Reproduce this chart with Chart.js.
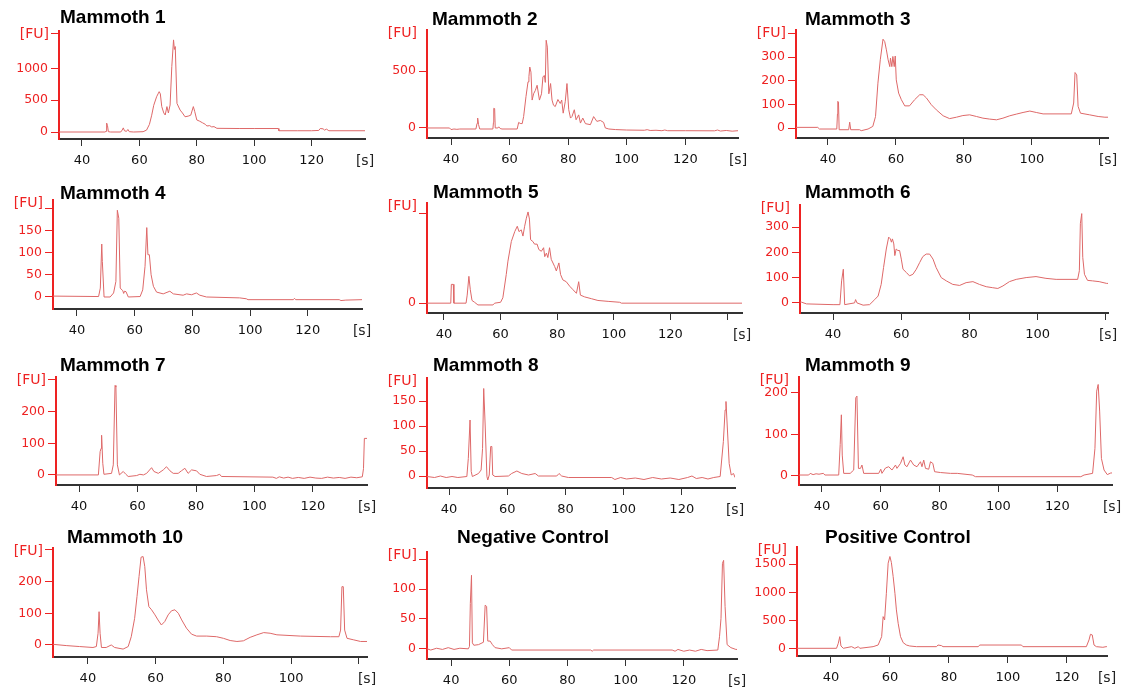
<!DOCTYPE html>
<html lang="en">
<head>
  <meta charset="UTF-8">
  <title>Electropherograms</title>
  <script src="https://cdn.jsdelivr.net/npm/chart.js"></script>
  <style>
    body { margin: 0; background: #fff; }
    #painel { position: relative; width: 1121px; height: 690px; overflow: hidden; }
    #painel canvas { position: absolute; }
  </style>
</head>
<body>
  <div id="painel"></div>

<script>
  // traces: [time in s, fluorescence in FU]
  const mammoth1 = [[32,0],[48,0],[48.4,10],[48.6,140],[48.9,100],[49.2,5],[50,0],[53.5,0],[54,30],[54.4,65],[54.8,20],[55.5,10],[56,40],[56.5,5],[58,0],[61.3,5],[62.5,30],[63.5,120],[64.3,265],[65,420],[66,555],[66.5,600],[66.9,635],[67.3,600],[67.8,400],[68.5,300],[69,268],[69.6,400],[70.1,300],[70.7,425],[71.3,1030],[71.9,1450],[72.2,1300],[72.5,1345],[73.1,450],[74.2,345],[75,300],[75.9,240],[77,250],[77.9,265],[78.8,400],[79.3,320],[80,190],[81,170],[82,145],[83,120],[83.5,95],[84.5,100],[85.2,80],[86,85],[87,58],[95,55],[100,55],[108.4,55],[108.6,20],[115,20],[120,20],[122.5,25],[123,55],[124,50],[124.5,30],[125.2,45],[126,20],[138.6,20]];
  const mammoth2 = [[31.8,0],[39.5,0],[40,-14],[41,-9],[42,-12],[43,-9],[48.5,-9],[48.9,40],[49.1,87],[49.4,30],[49.8,-9],[54.3,-9],[54.5,50],[54.6,173],[54.9,170],[55.1,0],[56,0],[56.3,10],[56.8,-5],[57.4,-9],[62.6,-9],[63.1,49],[63.6,40],[64.3,38],[64.8,100],[65.6,275],[66.3,405],[66.6,450],[66.9,535],[67.3,490],[67.7,245],[68.2,300],[68.8,330],[69.4,375],[70.2,245],[70.9,300],[71.4,450],[71.9,460],[72.2,400],[72.5,770],[72.9,710],[73.4,300],[74,390],[74.5,245],[75,200],[75.6,188],[76.5,250],[77.3,215],[77.8,245],[78.3,130],[79,230],[79.6,390],[80.2,160],[80.8,87],[81.3,100],[82.1,160],[82.7,72],[83.6,115],[84.2,43],[85,87],[85.9,38],[87.6,29],[88.7,100],[89.8,58],[91,66],[92.1,49],[92.7,0],[93.9,-9],[96.2,-14],[100,-18],[106,-20],[107,-15],[108,-22],[110,-20],[112,-24],[113,-18],[114,-24],[120,-24],[130,-25],[131,-18],[132,-27],[134,-22],[136,-28],[138,-24]];
  const mammoth3 = [[30.6,3],[37,3],[37.5,-4],[42.6,-4],[42.8,60],[42.9,113],[43.1,110],[43.3,-7],[46.1,-7],[46.4,25],[46.7,-7],[49.3,-7],[49.8,-11],[51.8,-4],[53.2,7],[54,49],[54.7,190],[55.4,289],[56.2,376],[56.7,366],[57.2,331],[57.7,289],[58.2,260],[58.4,296],[58.8,260],[59.1,303],[59.5,260],[59.8,305],[60.1,204],[60.8,148],[61.6,120],[62.6,94],[64,94],[65.5,120],[67,141],[68,141],[69,127],[70.4,99],[71.9,77],[73.9,52],[75.8,40],[77.8,46],[79.7,53],[81.7,56],[83.7,49],[85.6,42],[87.6,38],[89.6,35],[91.5,42],[93.5,52],[95.4,59],[97.4,66],[99.4,72],[101.3,66],[103.3,60],[111.6,60],[112.3,106],[112.7,235],[113.2,225],[113.6,92],[114.3,63],[117,56],[119.5,49],[121.5,46],[122.4,46]];
  const mammoth4 = [[31.7,2],[47.5,1],[48.1,20],[48.6,119],[48.8,80],[49,80],[49.4,0],[51.5,0],[52.7,9],[53.5,35],[54,195],[54.5,177],[55,20],[55.9,14],[56.2,8],[56.5,13],[57,12],[57.8,0],[61.9,1],[62.8,16],[63.6,69],[64.2,156],[64.6,95],[65.1,95],[65.7,50],[66.5,24],[67.6,11],[69.9,7],[72.2,13],[73.4,7],[76.8,4],[78,7],[79.7,5],[81.4,9],[82.6,4],[84.9,0],[96.4,-2],[98.7,-4],[99.3,-6],[115,-6],[115.4,-3],[115.8,-6],[130.9,-6],[131.5,-8],[133.2,-7],[138.8,-6]];
  const mammoth5 = [[34,0],[42.4,0],[42.6,21],[43.3,21],[43.5,0],[47.8,0],[48.2,9],[48.8,30],[49.3,15],[49.9,3],[50.8,1],[52,-2],[57.3,-2],[57.9,0],[60,1],[60.8,6],[62,32],[62.6,47],[63.8,69],[65,80],[65.9,86],[66.5,80],[67.3,82],[67.9,75],[68.5,86],[69.1,95],[69.7,102],[70.2,94],[70.6,71],[71.4,69],[72,66],[72.9,66],[73.5,60],[74.4,58],[75.2,62],[75.6,52],[76.2,56],[76.7,51],[77.3,62],[77.9,49],[79.1,41],[79.7,36],[80.6,45],[81.2,32],[82,26],[83.2,24],[84.4,19],[85.6,15],[86.8,11],[87.6,24],[88.2,9],[89.7,7],[92.1,5],[94.4,3],[98,2],[102.1,1],[102.7,0],[145.3,0]];
  const mammoth6 = [[30.3,3],[30.7,3],[32.2,-4],[40,-7],[42,-7],[42.5,87],[43,133],[43.4,-7],[46.3,0],[46.6,13],[47,0],[48.8,-9],[50.7,-7],[52.2,13],[53.2,27],[54.1,73],[54.8,140],[55.6,213],[56.3,260],[56.8,253],[57.1,240],[57.4,253],[57.8,233],[58.1,187],[58.5,213],[59,207],[59.5,207],[60,173],[60.5,133],[61.5,120],[62.4,107],[63.4,113],[64.4,133],[65.4,160],[66.3,183],[67.3,193],[68.3,193],[69.3,173],[70.2,140],[71.7,100],[73.2,87],[75.1,73],[77.1,69],[79,80],[81,84],[82.9,73],[84.9,64],[86.8,60],[88.3,57],[89.8,67],[91.7,84],[93.7,93],[96.6,100],[99.5,104],[102.4,97],[105.4,93],[111.7,93],[112.2,127],[112.5,313],[112.9,353],[113.2,180],[113.7,113],[114.6,89],[116.1,87],[118,84],[120.2,77],[120.6,77]];
  const mammoth7 = [[32.1,0],[46.6,0],[47.2,74],[47.5,84],[47.7,126],[48.1,37],[48.5,2],[51.1,5],[51.7,32],[52.3,284],[52.6,279],[53.1,32],[53.8,0],[55.1,11],[56,2],[56.8,-5],[59.7,-2],[60.8,2],[62,0],[63.1,5],[64.8,23],[65.6,11],[67.1,5],[68.8,16],[69.9,26],[71.1,13],[72.2,5],[73.9,5],[75,13],[76.2,21],[77.3,5],[78.5,16],[80.2,13],[81.3,2],[83.6,-5],[87,-2],[88.1,2],[88.7,-5],[106.3,-7],[107.5,-11],[108.5,-6],[110,-10],[111.5,-7],[113,-11],[115,-8],[117,-11],[119,-7],[121,-10],[123,-11],[125,-7],[127,-10],[129,-8],[131,-11],[133,-7],[135,-9],[136.9,-6],[137.3,20],[137.6,116],[138.5,116]];
  const mammoth8 = [[32.4,-1],[35,-3],[37,0],[39,-3],[41,-1],[43,-3],[46.1,-1],[46.6,35],[47.2,112],[47.6,9],[48,-1],[50.1,5],[51,12],[51.5,55],[51.9,175],[52.4,102],[53,-1],[53.3,-8],[53.8,2],[54.3,59],[54.7,59],[55,2],[55.8,-1],[60.4,0],[61.5,5],[63.3,10],[65,5],[67.3,2],[69.6,5],[70.7,0],[77,0],[77.8,5],[78.7,0],[81,-3],[95.9,-3],[97,-7],[99,-3],[101,-6],[104,-4],[107,-7],[110,-3],[113,-6],[116,-4],[119,-7],[122,-3],[123.5,0],[125,-5],[127,-3],[129,-6],[131,-3],[133.2,-1],[134.3,69],[134.9,132],[135.2,149],[135.7,92],[136.3,25],[137,2],[137.8,5],[138.3,-3]];
  const mammoth9 = [[32.2,2],[35.5,2],[36,6],[37,3],[38,5],[39,4],[40.5,6],[41,2],[45.7,2],[46.2,75],[46.6,147],[46.9,50],[47.4,6],[49.6,6],[50.8,14],[51.5,188],[51.9,192],[52.4,18],[53.1,18],[53.6,26],[54.2,6],[59.3,6],[60,16],[60.4,6],[61.6,19],[62.7,22],[63.8,14],[65,26],[65.5,18],[66.7,30],[67.6,46],[68.2,26],[68.9,22],[70.1,38],[71.2,26],[72.3,22],[73.5,34],[74,22],[74.6,38],[75.2,18],[76.3,16],[76.9,34],[77.7,30],[78.3,10],[80.3,8],[83.7,6],[86,6],[91.1,2],[92.2,-2],[128,-2],[129.1,2],[132,6],[132.8,66],[133.4,204],[133.9,220],[134.4,156],[135,42],[135.9,14],[137,3],[138.2,7],[138.6,7]];
  const mammoth10 = [[29.7,2],[33.6,-2],[37.5,-5],[41.5,-8],[42.5,-5],[43,37],[43.3,105],[43.6,37],[44,-8],[45.4,-8],[46.9,0],[47.9,-8],[50.4,-13],[51.9,-5],[52.8,26],[53.8,84],[54.5,153],[55.1,216],[55.7,277],[56.3,279],[56.8,247],[57.3,174],[58,121],[58.8,111],[59.8,95],[60.7,79],[61.7,63],[62.7,74],[63.7,95],[64.7,108],[65.7,111],[66.7,100],[67.7,79],[69.1,53],[70.6,34],[72.1,28],[75.1,28],[78,26],[80,21],[82,14],[84,11],[85.9,13],[87.9,24],[89.9,32],[91.9,39],[93.8,37],[95.8,32],[102.7,28],[111.6,26],[114.1,26],[114.6,47],[115,184],[115.4,184],[115.8,47],[116.5,21],[118.5,16],[120.5,11],[122.4,11]];
  const negativeControl = [[31.7,0],[33,-2],[35,1],[37,-1],[39,2],[41,-1],[43,1],[45.9,0],[46.3,4],[46.6,76],[47,123],[47.3,10],[47.8,6],[49.4,7],[51.1,11],[51.7,73],[52.2,71],[52.6,13],[53.4,13],[54.2,7],[55.1,2],[57.4,0],[60,2],[60.8,-2],[88,-2],[88.5,-4],[89,-2],[116,-2],[117,-4],[118,-1],[120,-4],[122,-2],[124,-4],[126,-1],[128,-3],[131.7,-2],[132.3,21],[132.8,51],[133.3,143],[133.7,148],[134.2,71],[134.9,7],[136.2,2],[137.9,-1],[138.3,-1]];
  const positiveControl = [[28.5,12],[41.9,12],[42.5,100],[43,218],[43.4,53],[44.2,12],[47,41],[48.1,12],[49.3,41],[49.8,12],[54.3,41],[56,70],[57.2,218],[57.7,572],[58.2,513],[58.8,985],[59.4,1516],[60,1634],[60.5,1528],[61.1,1280],[61.7,985],[62.2,690],[62.8,454],[63.6,218],[64.5,112],[65.6,70],[66.7,53],[69,41],[75.8,41],[76.3,70],[77.5,59],[78,41],[89.9,41],[90.5,70],[104.6,70],[105.1,41],[126.6,41],[127.5,160],[128,260],[128.6,248],[129.2,70],[130,41],[132.2,30],[133.3,41],[133.6,41]];

  const sampleNames = ['Mammoth 1', 'Mammoth 2', 'Mammoth 3', 'Mammoth 4', 'Mammoth 5', 'Mammoth 6',
    'Mammoth 7', 'Mammoth 8', 'Mammoth 9', 'Mammoth 10', 'Negative Control', 'Positive Control'];
  const traces = [mammoth1, mammoth2, mammoth3, mammoth4, mammoth5, mammoth6,
    mammoth7, mammoth8, mammoth9, mammoth10, negativeControl, positiveControl];

  // labelled FU ticks, plus the unlabelled mark near the top of some axes
  const yTicks = [[0, 500, 1000], [0, 500], [0, 100, 200, 300], [0, 50, 100, 150], [0], [0, 100, 200, 300],
    [0, 100, 200], [0, 50, 100, 150], [0, 100, 200], [0, 100, 200], [0, 50, 100], [0, 500, 1000, 1500]];
  const yTopTick = [1545, null, 402, 200, 100, null, 302, null, null, 300, 150, null];
  const xStep = 20;

  const xRanges = [[32, 138.6], [31.8, 138], [30.6, 122.4], [31.7, 138.8], [34, 145.3], [30.3, 120.6],
    [32.1, 138.5], [32.4, 138.3], [32.2, 138.6], [29.7, 122.4], [31.7, 138.3], [28.5, 133.6]];
  const yRanges = [[-110, 1590], [-88, 860], [-42, 415], [-27, 218], [-11, 112], [-40, 387],
    [-32, 311], [-24, 196], [-22, 238], [-38, 306], [-17, 162], [-124, 1802]];

  // page position of each plot: y-axis x, axis top, x-axis y, x-axis end, title left, title middle
  const frames = [
    [59, 31, 139, 365, 60, 18],
    [427, 30, 138, 738, 432, 20],
    [796, 30, 138, 1108, 805, 20],
    [53, 200, 309, 362, 60, 194],
    [427, 203, 313, 742, 433, 193],
    [800, 205, 313, 1108, 805, 193],
    [56, 377, 485, 367, 60, 366],
    [427, 378, 488, 735, 433, 366],
    [799, 377, 485, 1112, 805, 366],
    [53, 548, 657, 367, 67, 538],
    [427, 552, 659, 737, 457, 538],
    [797, 547, 656, 1107, 825, 538]
  ];

  const VERMELHO = 'rgb(238, 34, 34)';
  const TRACO = 'rgb(222, 104, 104)';
  const PAD_ESQ = 50, PAD_TOPO = 35, PAD_DIR = 20, PAD_BASE = 35;

  Chart.defaults.font.family = '"DejaVu Sans", Verdana, sans-serif';

  // title, [FU] and [s] captions drawn on each canvas
  const rotulos = {
    id: 'rotulos',
    afterDraw(chart, args, opts) {
      const ctx = chart.ctx;
      const area = chart.chartArea;
      ctx.save();
      ctx.textBaseline = 'middle';
      ctx.font = 'bold 19px "Liberation Sans", Arial, sans-serif';
      ctx.fillStyle = '#000';
      ctx.textAlign = 'left';
      ctx.fillText(opts.titulo, opts.tx, opts.ty);
      ctx.font = '14px "DejaVu Sans", Verdana, sans-serif';
      ctx.fillStyle = VERMELHO;
      ctx.textAlign = 'right';
      ctx.fillText('[FU]', area.left - 10, area.top + 3);
      ctx.fillStyle = '#222';
      ctx.textAlign = 'center';
      ctx.fillText('[s]', area.right, area.bottom + 22);
      ctx.restore();
    }
  };

  const painel = document.getElementById('painel');

  for (let i = 0; i < traces.length; i++) {
    const [ax, topo, base, fim, tituloX, tituloY] = frames[i];
    const [xmin, xmax] = xRanges[i];
    const [ymin, ymax] = yRanges[i];

    const canvas = document.createElement('canvas');
    const esq = ax - PAD_ESQ, cima = topo - PAD_TOPO;
    canvas.width = fim - ax + PAD_ESQ + PAD_DIR;
    canvas.height = base - topo + PAD_TOPO + PAD_BASE;
    canvas.style.left = esq + 'px';
    canvas.style.top = cima + 'px';
    canvas.style.width = canvas.width + 'px';
    canvas.style.height = canvas.height + 'px';
    painel.appendChild(canvas);

    const marcasX = [];
    for (let v = 40; v <= xmax; v += xStep) marcasX.push(v);
    const marcasY = yTicks[i].slice();
    if (yTopTick[i] != null) marcasY.push(yTopTick[i]);

    new Chart(canvas, {
      type: 'line',
      data: {
        datasets: [{
          data: traces[i].map(p => ({ x: p[0], y: p[1] })),
          borderColor: TRACO,
          borderWidth: 1,
          pointRadius: 0,
          tension: 0,
          fill: false
        }]
      },
      options: {
        responsive: false,
        animation: false,
        events: [],
        layout: { padding: { left: 0, top: PAD_TOPO, right: PAD_DIR, bottom: 0 } },
        plugins: {
          legend: { display: false },
          tooltip: { enabled: false },
          rotulos: { titulo: sampleNames[i], tx: tituloX - esq, ty: tituloY - cima }
        },
        scales: {
          x: {
            type: 'linear',
            min: xmin,
            max: xmax,
            afterBuildTicks: s => { s.ticks = marcasX.map(v => ({ value: v })); },
            afterFit: s => { s.height = PAD_BASE; },
            ticks: {
              color: '#111',
              font: { size: 13 },
              padding: 7,
              maxRotation: 0,
              autoSkip: false,
              callback: v => (v <= xmax - 8 ? v : '')
            },
            grid: { drawOnChartArea: false, tickLength: 7, color: '#333' },
            border: { color: '#333', width: 2 }
          },
          y: {
            type: 'linear',
            min: ymin,
            max: ymax,
            afterBuildTicks: s => { s.ticks = marcasY.map(v => ({ value: v })); },
            afterFit: s => { s.width = PAD_ESQ; },
            ticks: {
              color: VERMELHO,
              font: { size: 12.5 },
              padding: 3,
              autoSkip: false,
              callback: v => (yTicks[i].includes(v) ? v : '')
            },
            grid: { drawOnChartArea: false, tickLength: 8, color: VERMELHO },
            border: { color: VERMELHO, width: 2 }
          }
        }
      },
      plugins: [rotulos]
    });
  }
</script>
</body>
</html>
